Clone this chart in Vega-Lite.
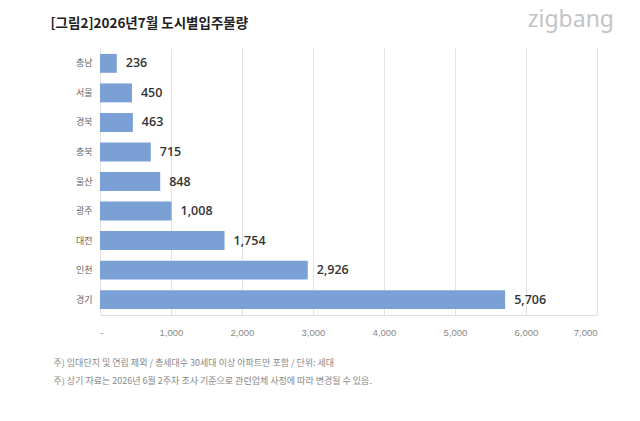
{
  "$schema": "https://vega.github.io/schema/vega-lite/v6.json",
  "width": 497,
  "height": 267,
  "autosize": "none",
  "padding": {"left": 100, "top": 48, "right": 43, "bottom": 106},
  "background": "white",
  "title": {
    "text": "zigbang",
    "anchor": "end",
    "frame": "group",
    "font": "Noto Sans",
    "fontSize": 23,
    "fontWeight": "normal",
    "color": "#c4c4c4",
    "dx": 17,
    "dy": 20
  },
  "data": {
    "values": [
      {"city": "충남", "value": 236},
      {"city": "서울", "value": 450},
      {"city": "경북", "value": 463},
      {"city": "충북", "value": 715},
      {"city": "울산", "value": 848},
      {"city": "광주", "value": 1008},
      {"city": "대전", "value": 1754},
      {"city": "인천", "value": 2926},
      {"city": "경기", "value": 5706}
    ]
  },
  "encoding": {
    "y": {
      "field": "city",
      "type": "nominal",
      "sort": null,
      "scale": {"paddingInner": 0.36, "paddingOuter": 0.2},
      "axis": {
        "title": "[그림2]2026년7월 도시별입주물량",
        "titleAngle": 0,
        "titleX": -50,
        "titleY": -21,
        "titleAlign": "left",
        "titleBaseline": "alphabetic",
        "titleFont": "Noto Sans CJK KR",
        "titleFontSize": 13.5,
        "titleFontWeight": "bold",
        "titleColor": "#222222",
        "domain": false,
        "ticks": false,
        "labelPadding": 8,
        "labelFont": "Noto Sans CJK KR",
        "labelFontSize": 9,
        "labelColor": "#666666"
      }
    },
    "x": {
      "field": "value",
      "type": "quantitative",
      "scale": {"domain": [0, 7000], "nice": false},
      "axis": {
        "values": [0, 1000, 2000, 3000, 4000, 5000, 6000, 7000],
        "labelExpr": "datum.value == 0 ? '-' : format(datum.value, ',')",
        "labelFont": "Liberation Sans",
        "labelFontSize": 9.5,
        "labelColor": "#888888",
        "labelPadding": 12,
        "ticks": false,
        "domain": true,
        "domainColor": "#dddddd",
        "gridColor": "#e3e3e3",
        "title": [
          "주) 임대단지 및 연립 제외 / 총세대수 30세대 이상 아파트만 포함 / 단위: 세대",
          "주) 상기 자료는 2026년 6월 2주차 조사 기준으로 관련업체 사정에 따라 변경될 수 있음."
        ],
        "titleX": -47,
        "titleY": 50,
        "titleAlign": "left",
        "titleAnchor": "start",
        "titleBaseline": "alphabetic",
        "titleFont": "Noto Sans CJK KR",
        "titleFontSize": 9,
        "titleFontWeight": "normal",
        "titleColor": "#888888",
        "titleLineHeight": 18
      }
    }
  },
  "layer": [
    {"mark": {"type": "bar", "color": "#7ba0d6"}},
    {
      "mark": {
        "type": "text",
        "align": "left",
        "baseline": "middle",
        "dx": 9,
        "font": "Open Sans",
        "fontSize": 12.5,
        "fontWeight": 600,
        "color": "#333333"
      },
      "encoding": {"text": {"field": "value", "type": "quantitative", "format": ","}}
    }
  ],
  "config": {"view": {"stroke": null}}
}
